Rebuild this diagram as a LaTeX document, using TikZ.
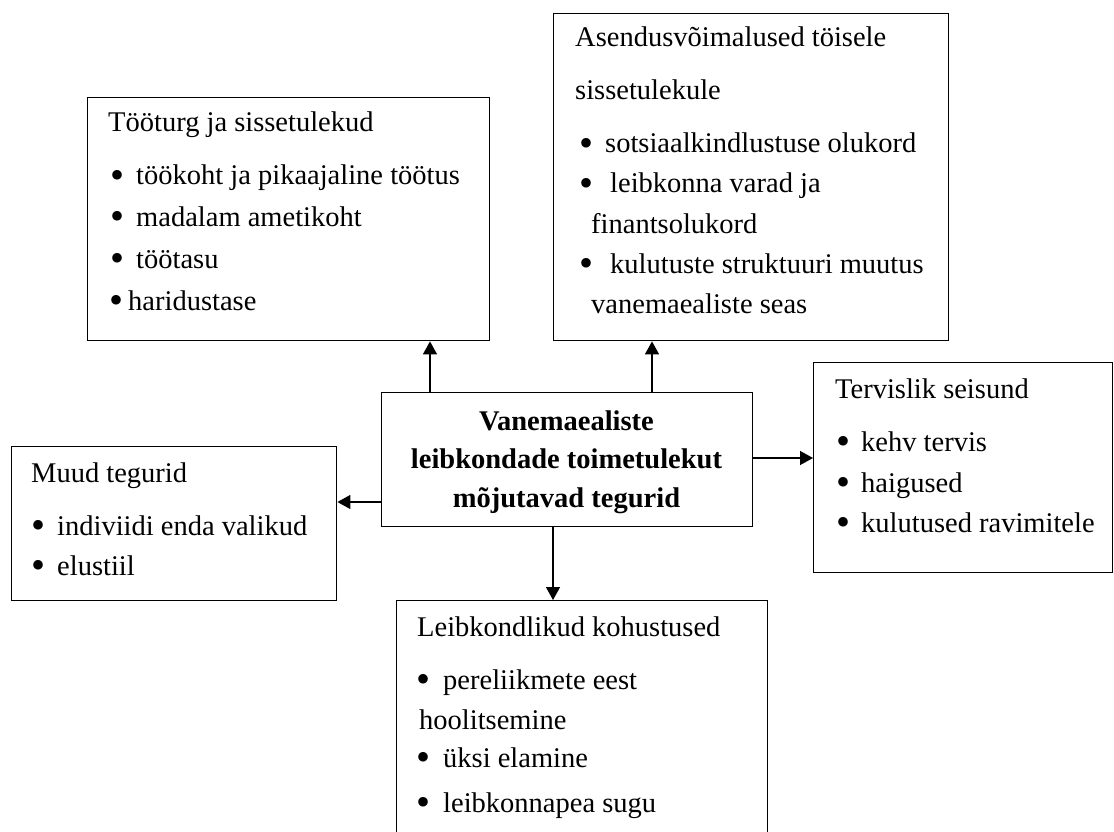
\documentclass[tikz,border=0pt]{standalone}
\usepackage{fontspec}
\setmainfont{Liberation Serif}
\usetikzlibrary{arrows.meta}
\newcommand*{\Dot}[1][26pt]{\makebox[#1][l]{\raisebox{-3.5pt}{\fontsize{40}{40}\selectfont\textbullet}}}
\newcommand*{\BoxLines}[2]{% #1 = box name, #2 = list of x/y/text
  \foreach \x/\y/\txt [count=\i] in {#2} {
    \node [textline] (#1-\i) at (\x,\y) {\txt};
    }%
}

\begin{document}
\begin{tikzpicture}[x=1pt,y=-1pt,
    box/.style={draw=black, line width=1.4pt, anchor=north west, inner sep=0pt},
    textline/.style={anchor=base west, inner sep=0pt, font=\fontsize{28.5}{34}\selectfont},
    conn/.style={line width=1.4pt, -{Triangle[length=13pt,width=14pt]}}]
    \useasboundingbox (0,0) rectangle (1114,832);

    % boxes
    \node [box, minimum width=402pt, minimum height=243pt] (tl) at (87,97) {};
    \node [box, minimum width=395pt, minimum height=327pt] (tr) at (553,13) {};
    \node [box, minimum width=371pt, minimum height=134pt] (c) at (381,392) {};
    \node [box, minimum width=299pt, minimum height=210pt] (rt) at (813,362) {};
    \node [box, minimum width=325pt, minimum height=154pt] (lt) at (11,446) {};
    \node [box, minimum width=371pt, minimum height=260pt] (bot) at (396,600) {};

    % texts
    \BoxLines{tl}{108/132/Tööturg ja sissetulekud,
                  110/185/\Dot töökoht ja pikaajaline töötus,
                  110/226/\Dot madalam ametikoht,
                  110/268/\Dot töötasu,
                  109/310/\Dot[19pt]haridustase}
    \BoxLines{tr}{575/47/Asendusvõimalused töisele,
                  575/100/sissetulekule,
                  579/153/\Dot sotsiaalkindlustuse olukord,
                  579/193/\Dot[31pt]leibkonna varad ja,
                  591/233/finantsolukord,
                  579/273/\Dot[31pt]kulutuste struktuuri muutus,
                  591/313/vanemaealiste seas}
    \BoxLines{rt}{835/398/Tervislik seisund,
                  836/451/\Dot[25pt]kehv tervis,
                  836/492/\Dot[25pt]haigused,
                  836/532/\Dot[25pt]kulutused ravimitele}
    \BoxLines{lt}{31/482/Muud tegurid,
                  31/535/\Dot[26pt]indiviidi enda valikud,
                  31/575/\Dot[26pt]elustiil}
    \BoxLines{bot}{417/636/Leibkondlikud kohustused,
                   416/689/\Dot[27pt]pereliikmete eest,
                   419/729/hoolitsemine,
                   416/767/\Dot[27pt]üksi elamine,
                   416/812/\Dot[27pt]leibkonnapea sugu}
    \foreach \y/\txt [count=\i] in {430/Vanemaealiste,
                                    468/leibkondade toimetulekut,
                                    507/mõjutavad tegurid} {
      \node [textline, anchor=base, font=\fontsize{28.5}{34}\selectfont\bfseries] (c-\i) at (566.5,\y) {\txt};
    }

    % arrows
    \draw [conn] ([xshift=49pt]c.north west) -- ([xshift=49pt]c.north west |- tl.south);
    \draw [conn] ([xshift=271pt]c.north west) -- ([xshift=271pt]c.north west |- tr.south);
    \draw [conn] ([yshift=-66pt]c.north east) -- ([yshift=-66pt]c.north east -| rt.west);
    \draw [conn] ([yshift=-110pt]c.north west) -- ([yshift=-110pt]c.north west -| lt.east);
    \draw [conn] ([xshift=172pt]c.south west) -- ([xshift=172pt]c.south west |- bot.north);
\end{tikzpicture}
\end{document}
